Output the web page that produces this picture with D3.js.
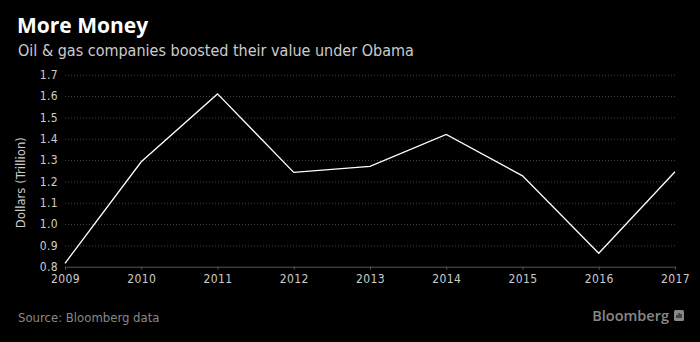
<!DOCTYPE html>
<html>
<head>
<meta charset="utf-8">
<script src="https://cdn.jsdelivr.net/npm/d3@7"></script>
<style>
  body { margin: 0; background: #000; }
  svg { display: block; background: #000; font-family: "DejaVu Sans", sans-serif; font-stretch: condensed; }
  .title { fill: #fff; font-size: 21px; font-weight: bold; font-family: "Open Sans", sans-serif; font-stretch: normal; }
  .subtitle { fill: #ccc; font-size: 16px; }
  .tick text { fill: #ccc; font-size: 12px; letter-spacing: 0.4px; }
  .y-axis-label { fill: #ccc; font-size: 13px; }
  .source { fill: #888; font-size: 13px; }
  .brand { fill: #888; font-size: 14.5px; font-weight: 600; font-family: "Open Sans", sans-serif; font-stretch: normal; }
  .line-path { fill: none; stroke: #fff; stroke-width: 1.3; }
</style>
</head>
<body>
<svg width="700" height="342"></svg>
<script>
  var years = [2009, 2010, 2011, 2012, 2013, 2014, 2015, 2016, 2017];
  var values = [0.816, 1.292, 1.61, 1.242, 1.27, 1.42, 1.226, 0.863, 1.245];
  var yTicks = [0.8, 0.9, 1.0, 1.1, 1.2, 1.3, 1.4, 1.5, 1.6, 1.7];

  var svg = d3.select("svg");
  var width = +svg.attr("width");
  var height = +svg.attr("height");

  var margin = { top: 74.7, right: 25, left: 65, bottom: 75.3 };
  var innerWidth = width - margin.left - margin.right;
  var innerHeight = height - margin.top - margin.bottom;

  var data = years.map(function (y, i) { return { year: y, value: values[i] }; });

  var xScale = d3.scaleLinear().domain([2009, 2017]).range([0, innerWidth]);
  var yScale = d3.scaleLinear().domain([0.8, 1.7]).range([innerHeight, 0]);

  // title
  svg.append("text").attr("class", "title").attr("x", 17).attr("y", 33).text("More Money");
  svg.append("text").attr("class", "subtitle").attr("x", 18).attr("y", 56)
    .text("Oil & gas companies boosted their value under Obama");

  var g = svg.append("g")
    .attr("transform", "translate(" + margin.left + "," + margin.top + ")");

  // y axis with dotted grid
  var yAxis = d3.axisLeft(yScale).tickValues(yTicks).tickFormat(d3.format(".1f"))
    .tickSize(-innerWidth).tickPadding(7);
  var yAxisGroup = g.append("g").call(yAxis)
    .attr("font-size", null).attr("font-family", null).attr("fill", null);
  yAxisGroup.select(".domain").remove();
  yAxisGroup.selectAll(".tick line")
    .attr("stroke", "#444").attr("stroke-dasharray", "1,2");
  yAxisGroup.selectAll(".tick").filter(function (d) { return d === 0.8; })
    .select("line").remove();

  yAxisGroup.append("text")
    .attr("class", "y-axis-label")
    .attr("transform", "rotate(-90)")
    .attr("x", -108)
    .attr("y", -40)
    .attr("text-anchor", "middle")
    .text("Dollars (Trillion)");

  // x axis
  var xAxis = d3.axisBottom(xScale).tickValues(years).tickFormat(d3.format("d"))
    .tickSize(3).tickPadding(5).tickSizeOuter(0);
  var xAxisGroup = g.append("g")
    .attr("transform", "translate(0," + innerHeight + ")")
    .call(xAxis)
    .attr("font-size", null).attr("font-family", null).attr("fill", null);
  xAxisGroup.select(".domain").attr("stroke", "#555").attr("fill", "none");
  xAxisGroup.selectAll(".tick line").attr("stroke", "#555");

  // line
  var lineGenerator = d3.line()
    .x(function (d) { return xScale(d.year); })
    .y(function (d) { return yScale(d.value); });
  g.append("path").attr("class", "line-path").attr("d", lineGenerator(data));

  // footer
  svg.append("text").attr("class", "source").attr("x", 18).attr("y", 322).text("Source: Bloomberg data");
  svg.append("text").attr("class", "brand").attr("x", 669).attr("y", 321)
    .attr("text-anchor", "end").text("Bloomberg");
  var logo = svg.append("g").attr("transform", "translate(674,310)");
  logo.append("rect").attr("width", 10).attr("height", 11).attr("rx", 1.5).attr("fill", "#888");
  logo.append("path").attr("d", "M3,8V5M5,8V3M7,8V4").attr("stroke", "#000").attr("stroke-width", 1);
</script>
</body>
</html>
